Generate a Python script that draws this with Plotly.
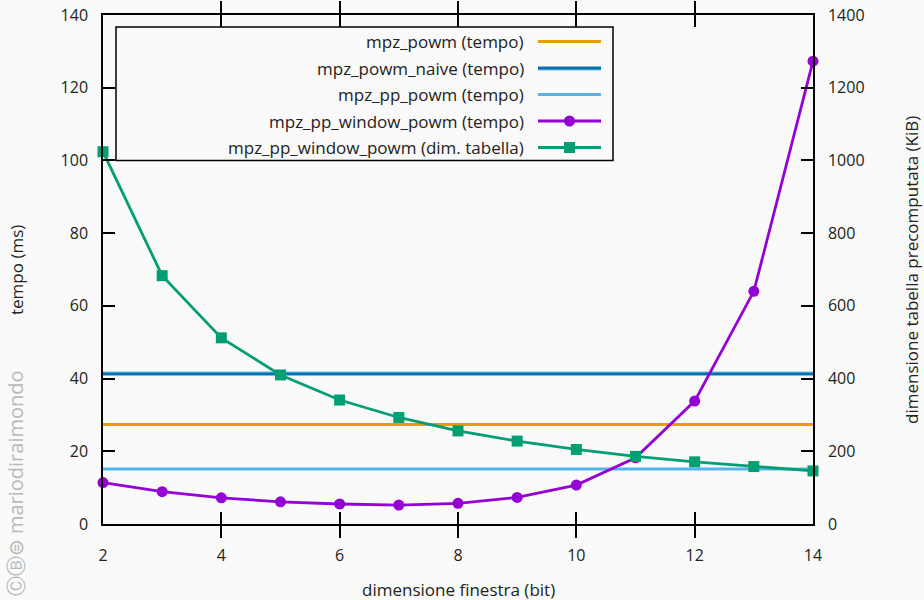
import plotly.graph_objects as go

# ---- data ----
window_bits = [2, 3, 4, 5, 6, 7, 8, 9, 10, 11, 12, 13, 14]
pp_window_powm_ms = [11.4, 8.9, 7.2, 6.1, 5.5, 5.2, 5.7, 7.3, 10.7, 18.2, 33.8, 64.0, 127.3]
pp_window_table_kib = [1024, 683, 512, 410, 341, 293, 256, 228, 205, 186, 171, 158, 146]
powm_ms = 27.4
powm_naive_ms = 41.3
pp_powm_ms = 15.1
x_ticks = [2, 4, 6, 8, 10, 12, 14]
y_ticks = [0, 20, 40, 60, 80, 100, 120, 140]
y2_ticks = [0, 200, 400, 600, 800, 1000, 1200, 1400]

labels = ["mpz_powm (tempo)", "mpz_powm_naive (tempo)", "mpz_pp_powm (tempo)",
          "mpz_pp_window_powm (tempo)", "mpz_pp_window_powm (dim. tabella)"]
colors = ["#e69f00", "#0072b2", "#56b4e9", "#9400d3", "#009e73"]

FONT = "Open Sans, DejaVu Sans, sans-serif"
BG = "#fafafa"
TXT = "#222"

# plot area in pixels
L, R, T, B = 103, 813, 15, 524
W, H = 924, 600
def px(x):
    return (x - L) / (R - L)
def py(y):
    return (B - y) / (B - T)

xr = [window_bits[0], window_bits[-1]]

fig = go.Figure()
fig.add_trace(go.Scatter(x=xr, y=[powm_ms] * 2, mode="lines",
                         line=dict(color=colors[0], width=3), showlegend=False))
fig.add_trace(go.Scatter(x=xr, y=[powm_naive_ms] * 2, mode="lines",
                         line=dict(color="#7fb9e0", width=4.5), showlegend=False, hoverinfo="skip"))
fig.add_trace(go.Scatter(x=xr, y=[powm_naive_ms] * 2, mode="lines",
                         line=dict(color=colors[1], width=2.5), showlegend=False))
fig.add_trace(go.Scatter(x=xr, y=[pp_powm_ms] * 2, mode="lines",
                         line=dict(color=colors[2], width=3), showlegend=False))
fig.add_trace(go.Scatter(x=window_bits, y=pp_window_powm_ms, mode="lines+markers",
                         line=dict(color=colors[3], width=2.8),
                         marker=dict(symbol="circle", size=11, color=colors[3]),
                         showlegend=False, cliponaxis=False))
fig.add_trace(go.Scatter(x=window_bits, y=pp_window_table_kib, mode="lines+markers",
                         line=dict(color=colors[4], width=2.8),
                         marker=dict(symbol="square", size=11, color=colors[4]),
                         showlegend=False, yaxis="y2", cliponaxis=False))

shapes = []
annotations = []

# legend box (gnuplot style: text on the left, sample on the right)
shapes.append(dict(type="rect", xref="paper", yref="paper",
                   x0=px(116), x1=px(613), y0=py(27), y1=py(160.5),
                   line=dict(color="black", width=1.5), fillcolor=BG, layer="above"))
rows = [41.5, 68.3, 94.5, 121, 147.5]
for i, (lab, col) in enumerate(zip(labels, colors)):
    yy = py(rows[i])
    annotations.append(dict(xref="paper", yref="paper", x=px(526), y=yy,
                            xanchor="right", yanchor="middle", showarrow=False,
                            text=lab, font=dict(family=FONT, size=17, color=TXT)))
    if i == 1:
        shapes.append(dict(type="line", xref="paper", yref="paper", x0=px(538), x1=px(601),
                           y0=yy, y1=yy, line=dict(color="#7fb9e0", width=4.5), layer="above"))
        shapes.append(dict(type="line", xref="paper", yref="paper", x0=px(538), x1=px(601),
                           y0=yy, y1=yy, line=dict(color=col, width=2.5), layer="above"))
    else:
        shapes.append(dict(type="line", xref="paper", yref="paper", x0=px(538), x1=px(601),
                           y0=yy, y1=yy, line=dict(color=col, width=3), layer="above"))
    if i == 3:
        shapes.append(dict(type="circle", xref="paper", yref="paper",
                           x0=px(564), x1=px(575), y0=py(rows[i] - 5.5), y1=py(rows[i] + 5.5),
                           fillcolor=col, line=dict(color=col, width=0), layer="above"))
    if i == 4:
        shapes.append(dict(type="rect", xref="paper", yref="paper",
                           x0=px(564), x1=px(575), y0=py(rows[i] - 5.5), y1=py(rows[i] + 5.5),
                           fillcolor=col, line=dict(color=col, width=0), layer="above"))

# axis titles
annotations.append(dict(xref="paper", yref="paper", x=px(458), y=py(589),
                        xanchor="center", yanchor="middle", showarrow=False,
                        text="dimensione finestra (bit)", font=dict(family=FONT, size=17, color=TXT)))
annotations.append(dict(xref="paper", yref="paper", x=px(16), y=py(270),
                        xanchor="center", yanchor="middle", showarrow=False, textangle=-90,
                        text="tempo (ms)", font=dict(family=FONT, size=17, color=TXT)))
annotations.append(dict(xref="paper", yref="paper", x=px(911), y=py(270),
                        xanchor="center", yanchor="middle", showarrow=False, textangle=-90,
                        text="dimensione tabella precomputata (KiB)", font=dict(family=FONT, size=17, color=TXT)))
# watermark
annotations.append(dict(xref="paper", yref="paper", x=px(15), y=py(598),
                        xanchor="center", yanchor="bottom", showarrow=False, textangle=-90,
                        text="\u24b8\u24b7\u229c mariodiraimondo", font=dict(family=FONT, size=20, color="#b8b8b8")))

axis_common = dict(showline=True, linecolor="black", linewidth=1.5, ticks="inside",
                   ticklen=12, tickwidth=1.5, tickcolor="black", showgrid=False, zeroline=False,
                   automargin=False,
                   tickfont=dict(family=FONT, size=16, color=TXT))

fig.update_layout(
    width=W, height=H,
    paper_bgcolor=BG, plot_bgcolor=BG,
    margin=dict(l=L, r=W - R, t=T, b=H - B, autoexpand=False),
    showlegend=False,
    xaxis=dict(range=xr, tickvals=x_ticks, mirror="allticks", ticklabelstandoff=16, **axis_common),
    yaxis=dict(range=[0, 140], tickvals=y_ticks, ticklabelstandoff=10, **axis_common),
    yaxis2=dict(range=[0, 1400], tickvals=y2_ticks, overlaying="y", side="right",
                ticklabelstandoff=10, **axis_common),
    shapes=shapes, annotations=annotations,
)

fig.write_html("out.html", config={"displayModeBar": False},
               post_script="document.body.style.margin='0';document.body.style.background='%s';" % BG)
